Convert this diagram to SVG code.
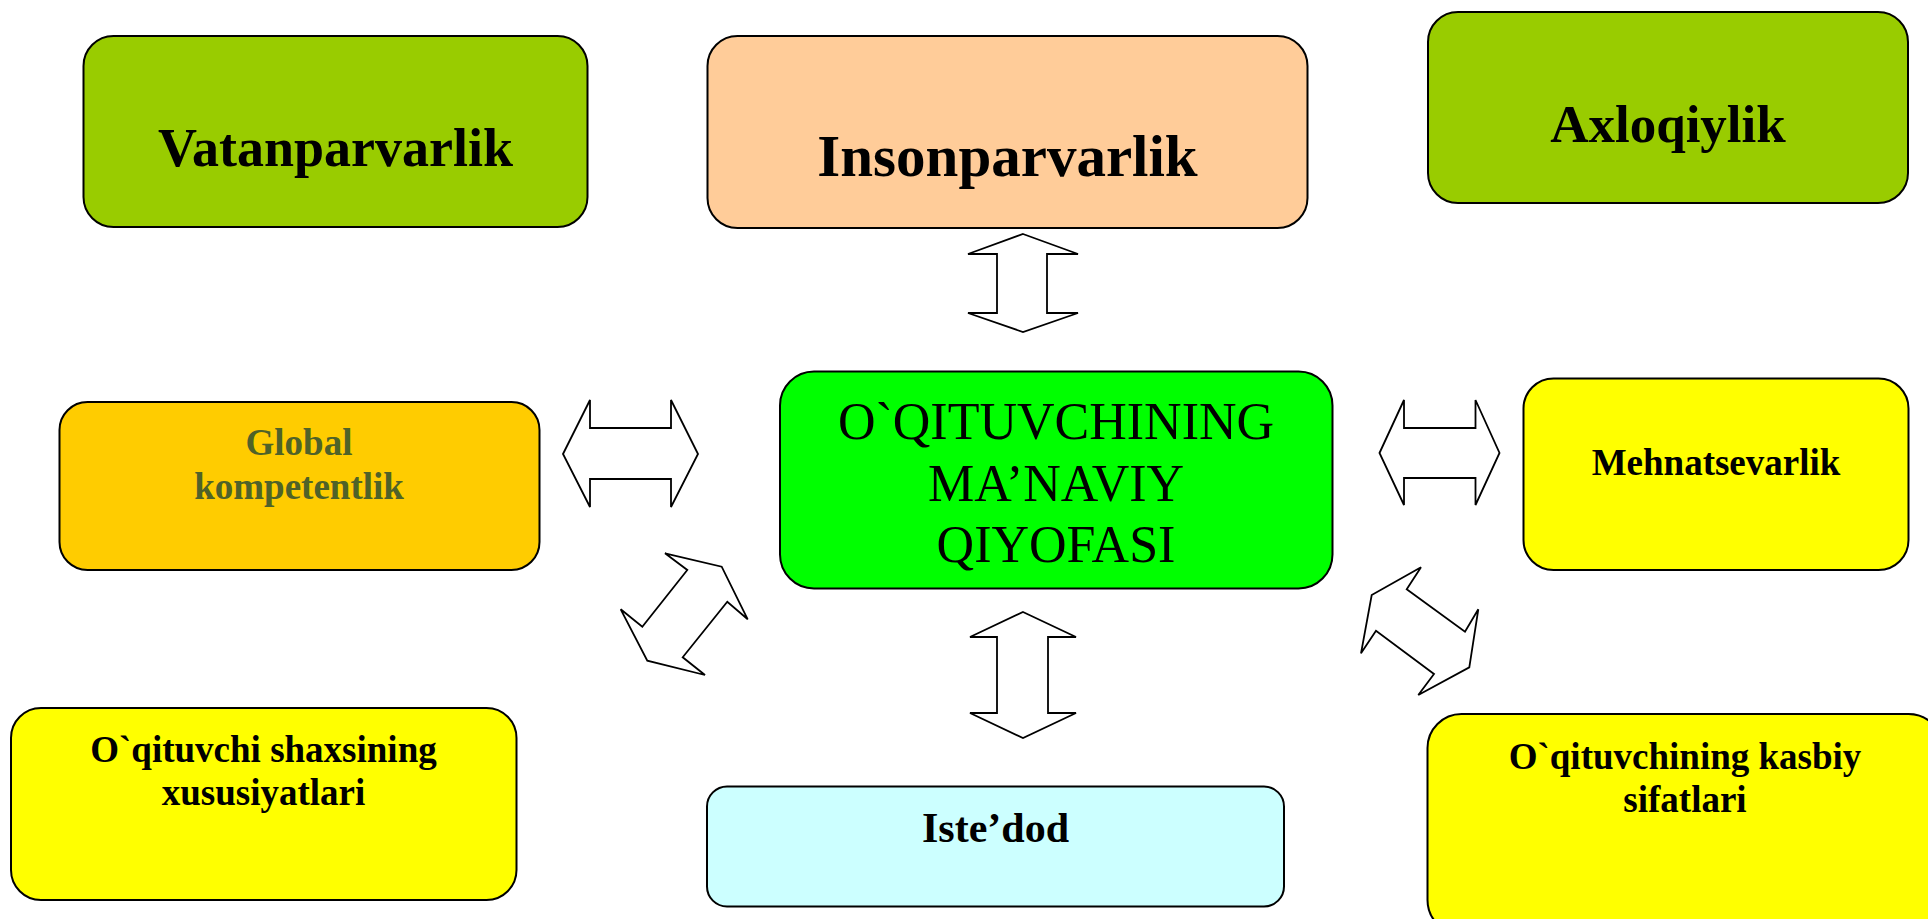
<svg xmlns="http://www.w3.org/2000/svg" width="1928" height="919" viewBox="0 0 1928 919">
<style>
.box{stroke:#000;stroke-width:2}
.arr{fill:#fff;stroke:#000;stroke-width:1.8;stroke-linejoin:miter}
text{font-family:"Liberation Serif","Times New Roman",serif;text-anchor:middle;fill:#000}
.b{font-weight:bold}
</style>
<rect width="1928" height="919" fill="#fff"/>
<g id="connectors">
<polygon class="arr" points="1023,234 1078,254 1047,254 1047,313 1078,313 1023,332 968,313 997,313 997,254 968,254"/>
<polygon class="arr" points="1023,612 1076,637 1048,637 1048,713 1076,713 1023,738 970,713 997,713 997,637 970,637"/>
<polygon class="arr" points="563,454 590,400 590,428 671,428 671,400 698,454 671,507 671,479 590,479 590,507"/>
<polygon class="arr" points="1379.5,453 1404,400 1404,428 1475.5,428 1475.5,400 1499.5,453 1475.5,505 1475.5,478 1404,478 1404,505"/>
<polygon class="arr" points="665,553.3 721.7,566.7 747.7,619.3 727.3,601.7 682.7,657.3 705,675 647.3,660.7 620.7,609.3 642.3,626.7 687.3,570"/>
<polygon class="arr" points="1421,567.3 1406.7,589.3 1465,631.7 1478.3,609.3 1469.3,667.3 1418.3,695 1434,674 1376,630.7 1361,653.3 1371.7,595"/>
</g>
<g id="vatanparvarlik">
<rect class="box" x="83.5" y="36" width="504" height="191" rx="30" fill="#99CC00"/>
<text class="b" x="335.5" y="166" font-size="54">Vatanparvarlik</text>
</g>
<g id="insonparvarlik">
<rect class="box" x="707.5" y="36" width="600" height="192" rx="30" fill="#FFCC99"/>
<text class="b" x="1007.5" y="176" font-size="59">Insonparvarlik</text>
</g>
<g id="axloqiylik">
<rect class="box" x="1428" y="12" width="480" height="191" rx="30" fill="#99CC00"/>
<text class="b" x="1668" y="142" font-size="53">Axloqiylik</text>
</g>
<g id="global">
<rect class="box" x="59.5" y="402" width="480" height="168" rx="28" fill="#FFCC00"/>
<text class="b" x="299" y="455" font-size="37" fill="#4F6228" style="fill:#4F6228">Global</text>
<text class="b" x="299" y="499" font-size="37" fill="#4F6228" style="fill:#4F6228">kompetentlik</text>
</g>
<g id="markaz">
<rect class="box" x="780" y="371.5" width="552.5" height="217" rx="34" fill="#00FF00"/>
<text x="1056" y="439" font-size="52">O`QITUVCHINING</text>
<text x="1056" y="501" font-size="52">MA’NAVIY</text>
<text x="1056" y="562" font-size="52">QIYOFASI</text>
</g>
<g id="mehnatsevarlik">
<rect class="box" x="1523.5" y="378.5" width="385" height="191.5" rx="30" fill="#FFFF00"/>
<text class="b" x="1716" y="475" font-size="37">Mehnatsevarlik</text>
</g>
<g id="shaxs">
<rect class="box" x="11" y="708" width="505.5" height="192" rx="30" fill="#FFFF00"/>
<text class="b" x="263.5" y="762" font-size="37">O`qituvchi shaxsining</text>
<text class="b" x="263.5" y="805" font-size="37">xususiyatlari</text>
</g>
<g id="istedod">
<rect class="box" x="707" y="786.5" width="577" height="120" rx="20" fill="#CCFFFF"/>
<text class="b" x="995.5" y="842" font-size="42">Iste’dod</text>
</g>
<g id="kasbiy">
<rect class="box" x="1427.5" y="714" width="515" height="220" rx="34" fill="#FFFF00"/>
<text class="b" x="1685" y="769" font-size="37">O`qituvchining kasbiy</text>
<text class="b" x="1685" y="812" font-size="37">sifatlari</text>
</g>
</svg>
